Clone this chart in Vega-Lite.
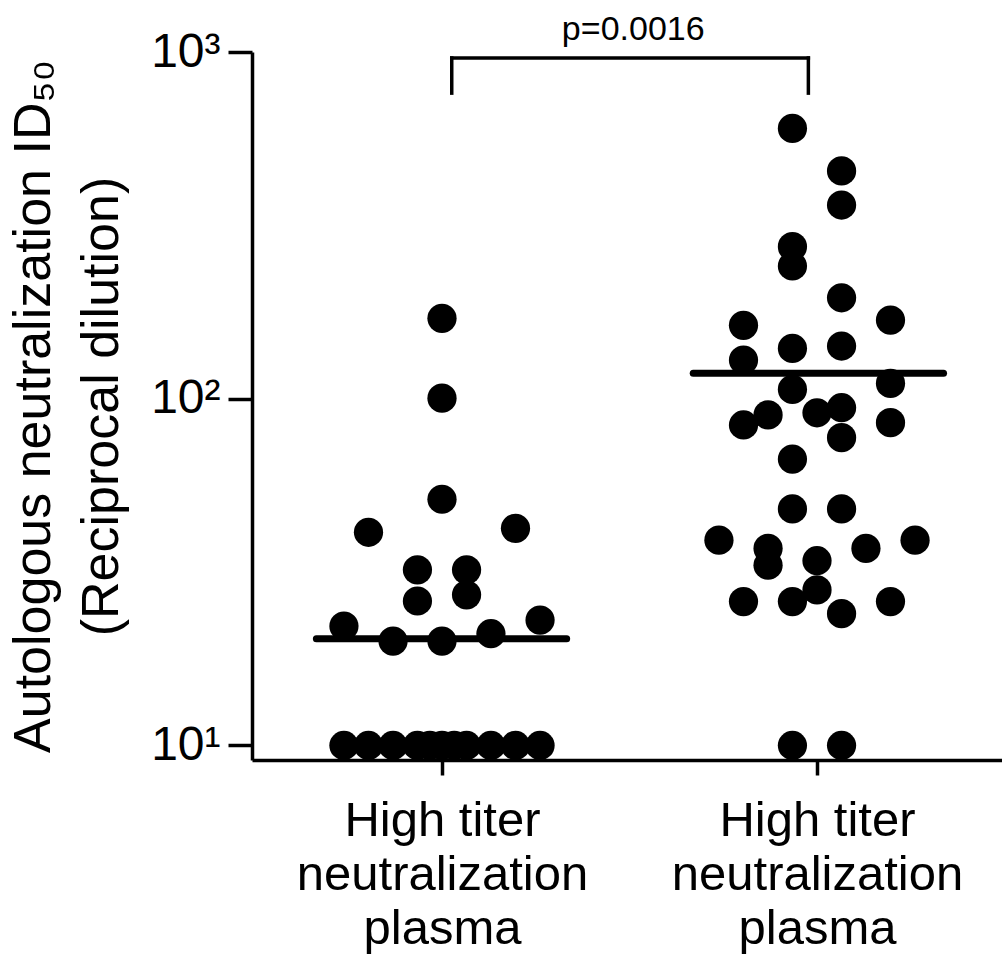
{
  "$schema": "https://vega.github.io/schema/vega-lite/v6.json",
  "autosize": "none",
  "width": 750,
  "height": 708,
  "padding": {"left": 252, "top": 52, "right": 0, "bottom": 195},
  "background": "white",
  "config": {
    "view": {"stroke": null},
    "font": "Liberation Sans",
    "axis": {"grid": false, "domainColor": "black", "tickColor": "black", "labelColor": "black", "titleColor": "black", "labelFont": "Liberation Sans", "titleFont": "Liberation Sans", "titleFontWeight": "normal"}
  },
  "datasets": {
    "points": [
      {"group": 1, "x": 1.0, "v": 170.6},
      {"group": 1, "x": 1.0, "v": 100.4},
      {"group": 1, "x": 1.0, "v": 51.3},
      {"group": 1, "x": 0.608, "v": 41.2},
      {"group": 1, "x": 1.392, "v": 42.3},
      {"group": 1, "x": 0.869, "v": 32.1},
      {"group": 1, "x": 1.131, "v": 32.1},
      {"group": 1, "x": 0.869, "v": 26.1},
      {"group": 1, "x": 1.131, "v": 27.2},
      {"group": 1, "x": 0.477, "v": 22.1},
      {"group": 1, "x": 0.739, "v": 20.0},
      {"group": 1, "x": 1.0, "v": 20.0},
      {"group": 1, "x": 1.261, "v": 21.0},
      {"group": 1, "x": 1.523, "v": 23.0},
      {"group": 1, "x": 0.477, "v": 10},
      {"group": 1, "x": 0.608, "v": 10},
      {"group": 1, "x": 0.739, "v": 10},
      {"group": 1, "x": 0.869, "v": 10},
      {"group": 1, "x": 0.935, "v": 10},
      {"group": 1, "x": 1.0, "v": 10},
      {"group": 1, "x": 1.065, "v": 10},
      {"group": 1, "x": 1.131, "v": 10},
      {"group": 1, "x": 1.261, "v": 10},
      {"group": 1, "x": 1.392, "v": 10},
      {"group": 1, "x": 1.523, "v": 10},
      {"group": 2, "x": 2.869, "v": 602},
      {"group": 2, "x": 3.131, "v": 454},
      {"group": 2, "x": 3.131, "v": 362},
      {"group": 2, "x": 2.869, "v": 274.5},
      {"group": 2, "x": 2.869, "v": 241.5},
      {"group": 2, "x": 3.131, "v": 195.5},
      {"group": 2, "x": 2.608, "v": 162.8},
      {"group": 2, "x": 3.392, "v": 168.6},
      {"group": 2, "x": 2.869, "v": 139.7},
      {"group": 2, "x": 3.131, "v": 141.9},
      {"group": 2, "x": 2.608, "v": 129.3},
      {"group": 2, "x": 3.392, "v": 110.7},
      {"group": 2, "x": 2.869, "v": 106.4},
      {"group": 2, "x": 3.131, "v": 94.2},
      {"group": 2, "x": 3.0, "v": 91.1},
      {"group": 2, "x": 2.739, "v": 89.8},
      {"group": 2, "x": 2.608, "v": 84.0},
      {"group": 2, "x": 3.392, "v": 85.3},
      {"group": 2, "x": 3.131, "v": 77.2},
      {"group": 2, "x": 2.869, "v": 67.0},
      {"group": 2, "x": 2.869, "v": 48.1},
      {"group": 2, "x": 3.131, "v": 48.1},
      {"group": 2, "x": 2.477, "v": 39.1},
      {"group": 2, "x": 2.739, "v": 37.0},
      {"group": 2, "x": 2.739, "v": 33.1},
      {"group": 2, "x": 3.0, "v": 34.1},
      {"group": 2, "x": 3.261, "v": 37.0},
      {"group": 2, "x": 3.523, "v": 39.1},
      {"group": 2, "x": 3.0, "v": 28.1},
      {"group": 2, "x": 2.608, "v": 26.0},
      {"group": 2, "x": 2.869, "v": 26.0},
      {"group": 2, "x": 3.131, "v": 24.0},
      {"group": 2, "x": 3.392, "v": 26.0},
      {"group": 2, "x": 2.869, "v": 10},
      {"group": 2, "x": 3.131, "v": 10}
    ],
    "medians": [
      {"group": 1, "x": 0.33, "x2": 1.665, "v": 20.3},
      {"group": 2, "x": 2.34, "x2": 3.675, "v": 118.4}
    ],
    "bracket": [
      {"x": 1.052, "x2": 2.954, "v": 961, "v2": 961},
      {"x": 1.052, "x2": 1.052, "v": 961, "v2": 761},
      {"x": 2.954, "x2": 2.954, "v": 961, "v2": 761}
    ],
    "pvalue": [
      {"x": 2.02, "v": 1083, "label": "p=0.0016"}
    ]
  },
  "encoding": {
    "x": {
      "field": "x",
      "type": "quantitative",
      "scale": {"domain": [-0.0133, 3.9867], "nice": false, "zero": false},
      "axis": {
        "values": [1, 3],
        "labelExpr": "['High titer', 'neutralization', 'plasma']",
        "title": null,
        "domainWidth": 3.5,
        "tickWidth": 3.5,
        "tickSize": 15,
        "labelFontSize": 49,
        "labelLineHeight": 54,
        "labelPadding": 21,
        "labelLimit": 0,
        "labelFlush": false,
        "labelOverlap": false,
        "labelBound": false
      }
    },
    "y": {
      "field": "v",
      "type": "quantitative",
      "scale": {"type": "log", "domain": [9.08, 1000], "nice": false},
      "axis": {
        "values": [10, 100, 1000],
        "labelExpr": "datum.value == 1000 ? '10³' : datum.value == 100 ? '10²' : '10¹'",
        "title": ["Autologous neutralization ID₅₀", "(Reciprocal dilution)"],
        "titleFontSize": 52,
        "titleLineHeight": 68,
        "titlePadding": 22,
        "domainWidth": 3.5,
        "tickWidth": 3.5,
        "tickSize": 24,
        "labelFontSize": 48,
        "labelPadding": 8,
        "labelFlush": false,
        "labelOverlap": false,
        "labelBound": false
      }
    }
  },
  "layer": [
    {
      "data": {"name": "points"},
      "mark": {"type": "circle", "size": 855, "color": "black", "opacity": 1}
    },
    {
      "data": {"name": "medians"},
      "mark": {"type": "rule", "color": "black", "strokeWidth": 7, "strokeCap": "round"},
      "encoding": {"x2": {"field": "x2"}}
    },
    {
      "data": {"name": "bracket"},
      "mark": {"type": "rule", "color": "black", "strokeWidth": 3.5, "strokeCap": "square"},
      "encoding": {"x2": {"field": "x2"}, "y2": {"field": "v2"}}
    },
    {
      "data": {"name": "pvalue"},
      "mark": {"type": "text", "fontSize": 34, "color": "black", "align": "center", "baseline": "alphabetic", "font": "Liberation Sans"},
      "encoding": {"text": {"field": "label"}}
    }
  ]
}
